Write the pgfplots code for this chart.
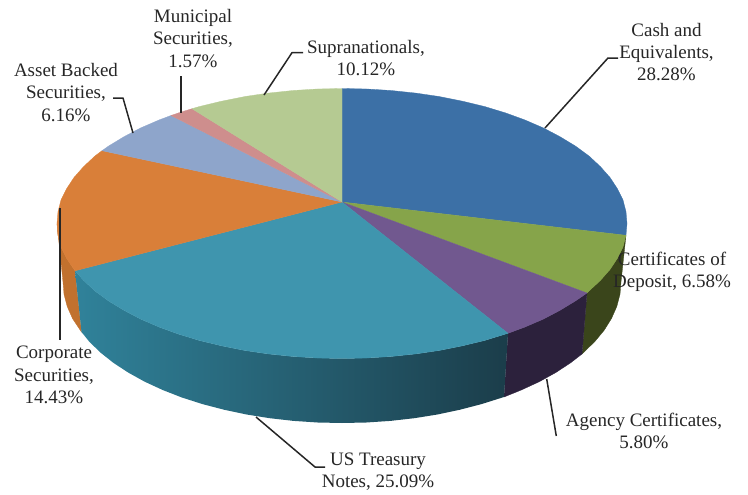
\documentclass[border=0pt]{standalone}
\usepackage{pgfplots}
\pgfplotsset{compat=1.18}
\usepackage{fontspec}
\setmainfont{Liberation Serif}
\definecolor{cblue}{HTML}{3C70A6}
\definecolor{cgreen}{HTML}{86A44A}
\definecolor{cpurple}{HTML}{71588F}
\definecolor{cteal}{HTML}{3F95AE}
\definecolor{corange}{HTML}{D97F39}
\definecolor{clblue}{HTML}{8EA5CB}
\definecolor{cpink}{HTML}{CE8E8D}
\definecolor{clime}{HTML}{B5CA92}
\definecolor{wgreen}{HTML}{3A451B}
\definecolor{wpurple}{HTML}{2C213C}
\definecolor{worange}{HTML}{C1712E}
\definecolor{wt1}{HTML}{30829A}
\definecolor{wt2}{HTML}{2A6478}
\definecolor{wt3}{HTML}{1B3D4A}
\definecolor{txt}{HTML}{262626}
\tikzset{
  lab/.style={align=center,text=txt,font=\fontsize{19}{22.3}\selectfont},
  lead/.style={draw=txt,line width=1.5pt,line join=round}
}
\begin{document}
\begin{tikzpicture}
\begin{axis}[
  width=748pt,height=493pt,scale only axis,
  xmin=0,xmax=748,ymin=0,ymax=493,y dir=reverse,
  hide axis,clip=false,
  every axis plot/.append style={line width=0.3pt}
]
% corners keep the page size
\addplot[draw=white,line width=0pt] coordinates {(0,0)(748,0)(748,493)(0,493)} -- cycle;
% side walls
\addplot[fill=worange,draw=worange] coordinates {(57,223.5)(58,235.3)(61,247)(66.7,258.5)(74,269.5)(75,270.8)(81.5,332)(72.5,318.5)(67.2,306.5)(64,294.3)(63,282)} -- cycle;
\addplot[fill=wgreen,draw=wgreen] coordinates {(626,235.3)(623,247)(617.3,258.5)(610,269.5)(600.3,280.5)(589,291)(587,293)(582,354)(594.8,341.6)(604.2,330.2)(611.5,318.5)(616.8,306.5)(620,294.3)(621,282)} -- cycle;
\addplot[fill=wpurple,draw=wpurple] coordinates {(587,293)(575.5,300.9)(560,310.3)(543.5,319)(525,327)(508,333.3)(504,397)(521.3,390)(539.3,381.7)(555.7,372.6)(570.5,362.9)(582,354)} -- cycle;
\addplot[left color=wt1,middle color=wt2,right color=wt3,shade,draw=none] coordinates {(508,333.3)(484.5,340.5)(462.5,345.8)(439,350.5)(415.8,353.9)(391,356.5)(366.8,358)(342,358.5)(317.2,358)(293,356.5)(268.2,353.9)(245,350.5)(221.5,345.8)(199.5,340.5)(178.5,334.1)(159,327)(140.5,319)(124,310.3)(108.5,300.9)(95,291)(83.7,280.5)(75,270.8)(81.5,332)(89.2,341.6)(100.4,352.5)(113.5,362.9)(128.3,372.6)(144.7,381.7)(162.7,390)(181.9,397.5)(202.5,404.1)(224,409.7)(246.6,414.5)(269.7,418.2)(293.6,420.9)(317.7,422.5)(342,423)(366.3,422.5)(390.4,420.9)(414.3,418.2)(437.4,414.5)(460,409.7)(481.5,404.1)(504,397)} -- cycle;
% top face: shares 28.28 6.58 5.80 25.09 14.43 6.16 1.57 10.12
\addplot[fill=cblue,draw=cblue] coordinates {(342,202)(342,88.5)(366.8,89)(391,90.5)(415.8,93.1)(439,96.5)(462.5,101.2)(484.5,106.5)(505.5,112.9)(525,120)(543.5,128)(560,136.7)(575.5,146.1)(589,156)(600.3,166.5)(610,177.5)(617.3,188.5)(623,200)(626,211.7)(627,223.5)(626,235.3)} -- cycle;
\addplot[fill=cgreen,draw=cgreen] coordinates {(342,202)(626,235.3)(623,247)(617.3,258.5)(610,269.5)(600.3,280.5)(589,291)(587,293)} -- cycle;
\addplot[fill=cpurple,draw=cpurple] coordinates {(342,202)(587,293)(575.5,300.9)(560,310.3)(543.5,319)(525,327)(508,333.3)} -- cycle;
\addplot[fill=cteal,draw=cteal] coordinates {(342,202)(508,333.3)(484.5,340.5)(462.5,345.8)(439,350.5)(415.8,353.9)(391,356.5)(366.8,358)(342,358.5)(317.2,358)(293,356.5)(268.2,353.9)(245,350.5)(221.5,345.8)(199.5,340.5)(178.5,334.1)(159,327)(140.5,319)(124,310.3)(108.5,300.9)(95,291)(83.7,280.5)(75,270.8)} -- cycle;
\addplot[fill=corange,draw=corange] coordinates {(342,202)(75,270.8)(66.7,258.5)(61,247)(58,235.3)(57,223.5)(58,211.7)(61,200)(66.7,188.5)(74,177.5)(83.7,166.5)(95,156)(102,150.7)} -- cycle;
\addplot[fill=clblue,draw=clblue] coordinates {(342,202)(102,150.7)(108.5,146.1)(124,136.7)(140.5,128)(159,120)(171,115.5)} -- cycle;
\addplot[fill=cpink,draw=cpink] coordinates {(342,202)(171,115.5)(178.5,112.9)(192,108.7)} -- cycle;
\addplot[fill=clime,draw=clime] coordinates {(342,202)(192,108.7)(199.5,106.5)(221.5,101.2)(245,96.5)(268.2,93.1)(293,90.5)(317.2,89)(342,88.5)} -- cycle;
% leader lines
\addplot[lead] coordinates {(545,128)(608,58)(618,58)};
\addplot[lead] coordinates {(264,95)(292,52.7)(303,52.7)};
\addplot[lead] coordinates {(181,76)(181,113)};
\addplot[lead] coordinates {(113,98)(123,98)(133,133)};
\addplot[lead] coordinates {(60,208)(60,340)};
\addplot[lead] coordinates {(256,417)(315,467)(325,467)};
\addplot[lead] coordinates {(546.7,379)(556.3,436)};
% labels
\node[lab] at (axis cs:666.5,52) {Cash and\\Equivalents,\\28.28\%};
\node[lab] at (axis cs:366,58) {Supranationals,\\10.12\%};
\node[lab] at (axis cs:193,38.5) {Municipal\\Securities,\\1.57\%};
\node[lab] at (axis cs:66,92.5) {Asset Backed\\Securities,\\6.16\%};
\node[lab] at (axis cs:54,375) {Corporate\\Securities,\\14.43\%};
\node[lab] at (axis cs:378,472) {US Treasury\\Notes, 25.09\%};
\node[lab] at (axis cs:644,431) {Agency Certificates,\\5.80\%};
\node[lab] at (axis cs:672,272) {Certificates of\\Deposit, 6.58\%};
\end{axis}
\end{tikzpicture}
\end{document}
